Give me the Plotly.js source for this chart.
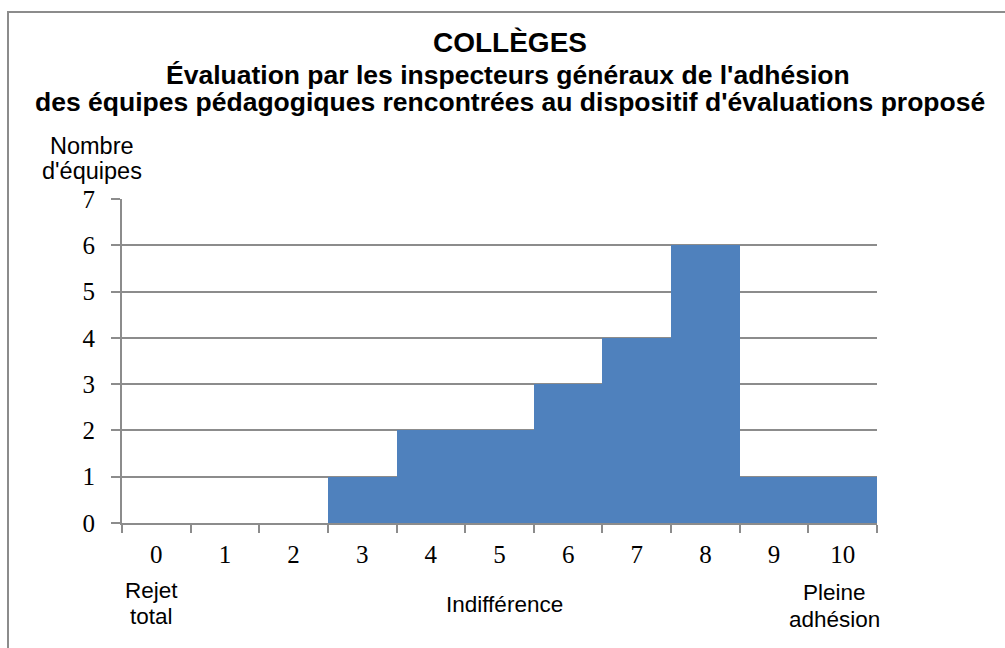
<!DOCTYPE html>
<html>
<head>
<meta charset="utf-8">
<script src="https://cdn.plot.ly/plotly-3.0.1.min.js"></script>
<style>html,body{margin:0;padding:0;background:#fff;}#chart{width:1005px;height:648px;}</style>
</head>
<body>
<div id="chart"></div>
<script>
const categories = ["0","1","2","3","4","5","6","7","8","9","10"];
const counts = [0,0,0,1,2,2,3,4,6,1,1];
const titleLine1 = "COLLÈGES";
const titleLine2 = "Évaluation par les inspecteurs généraux de l'adhésion";
const titleLine3 = "des équipes pédagogiques rencontrées au dispositif d'évaluations proposé";
const yAxisLabelLines = ["Nombre", "d'équipes"];
const leftLabelLines = ["Rejet", "total"];
const middleLabel = "Indifférence";
const rightLabelLines = ["Pleine", "adhésion"];

const W = 1005, H = 648;
const M = {l:122, r:128, t:199, b:125};
const pw = W - M.l - M.r, ph = H - M.t - M.b;
const px = x => (x - M.l) / pw;
const py = y => (H - M.b - y) / ph;

const grey = '#8c8c8c';
const sans = 'Liberation Sans, Arial, sans-serif';
const serif = 'Liberation Serif, Times New Roman, serif';

const trace = {
  type: 'bar',
  x: categories,
  y: counts,
  marker: {color: '#4F81BD', line: {width: 0}},
  hoverinfo: 'x+y'
};

const ann = (text, x, y, size, bold) => ({
  text: bold ? '<b>' + text + '</b>' : text,
  xref: 'paper', yref: 'paper', x: px(x), y: py(y),
  xanchor: 'center', yanchor: 'middle', showarrow: false,
  font: {family: sans, size: size, color: '#000'}
});

const layout = {
  width: W, height: H,
  margin: M,
  paper_bgcolor: '#fff', plot_bgcolor: '#fff',
  bargap: 0,
  showlegend: false,
  title: {text: '<b>' + titleLine1 + '</b>', x: 510 / W, xanchor: 'center', y: 1 - 42/H, yanchor: 'middle', yref: 'container', xref: 'container',
          font: {family: sans, size: 28, color: '#000'}},
  xaxis: {
    type: 'category', tickson: 'boundaries', ticks: 'outside', ticklen: 8, tickwidth: 2, tickcolor: grey,
    showline: true, linecolor: grey, linewidth: 2, showgrid: false, zeroline: false,
    range: [-0.5, 10.5], ticklabelstandoff: 8,
    tickfont: {family: serif, size: 25, color: '#000'}
  },
  yaxis: {
    range: [0, 7], dtick: 1, tick0: 0, ticks: 'outside', ticklen: 9, tickwidth: 2, tickcolor: grey,
    showline: true, linecolor: grey, linewidth: 2, showgrid: true, gridcolor: grey, gridwidth: 1.5,
    zeroline: false, ticklabelstandoff: 11,
    tickfont: {family: serif, size: 25, color: '#000'}
  },
  annotations: [
    ann(titleLine2, 508, 75, 26.5, true),
    ann(titleLine3, 510, 102, 26.5, true),
    ann(yAxisLabelLines[0], 92, 146, 23.5, false),
    ann(yAxisLabelLines[1], 92, 171, 23.5, false),
    ann(leftLabelLines[0], 151, 590, 22.5, false),
    ann(leftLabelLines[1], 151, 616, 22.5, false),
    ann(middleLabel, 505, 604, 22.5, false),
    ann(rightLabelLines[0], 834, 592, 22.5, false),
    ann(rightLabelLines[1], 834, 619, 22.5, false)
  ],
  shapes: [{
    type: 'rect', xref: 'paper', yref: 'paper',
    x0: px(8), y0: py(12), x1: px(1012), y1: py(660),
    line: {color: grey, width: 2}, fillcolor: 'rgba(0,0,0,0)', layer: 'above'
  }]
};

Plotly.newPlot('chart', [trace], layout, {displayModeBar: false});
</script>
</body>
</html>
